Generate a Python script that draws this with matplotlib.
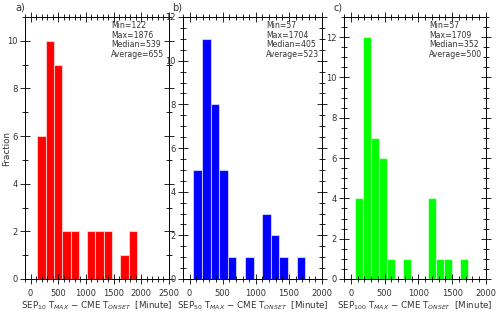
import matplotlib
matplotlib.use("Agg")
from matplotlib import pyplot as plt
from matplotlib.ticker import MultipleLocator

# histogram counts per bin (bins start at the minimum)
counts_a = [6, 10, 9, 2, 2, 0, 2, 2, 2, 0, 1, 2]
counts_b = [5, 11, 8, 5, 1, 0, 1, 0, 3, 2, 1, 0, 1]
counts_c = [4, 12, 7, 6, 1, 0, 1, 0, 0, 4, 1, 1, 0, 1]

start_a, width_a = 122, 150
start_b, width_b = 57, 130
start_c, width_c = 57, 120

stats_a = ["Min=122", "Max=1876", "Median=539", "Average=655"]
stats_b = ["Min=57", "Max=1704", "Median=405", "Average=523"]
stats_c = ["Min=57", "Max=1709", "Median=352", "Average=500"]

subs = ["10", "50", "100"]
letters = ["a)", "b)", "c)"]

plt.rcParams["font.family"] = "DejaVu Sans"
fig = plt.figure(figsize=(4.96, 3.27), dpi=100)

bottom = (327 - 279) / 327
height = (279 - 17) / 327
boxes = [(25, 144), (183, 139), (344, 142)]
xmaxs = [2500, 2000, 2000]
ymaxs = [11, 12, 13]
yminor = [1, 0.5, 0.5]
colors = ["#ff0000", "#0000ff", "#00ff00"]
allcounts = [counts_a, counts_b, counts_c]
starts = [start_a, start_b, start_c]
widths = [width_a, width_b, width_c]
allstats = [stats_a, stats_b, stats_c]

txtcol = "#333333"

for i in range(3):
    left, w = boxes[i]
    ax = fig.add_axes([left / 496, bottom, w / 496, height])
    lefts = [starts[i] + k * widths[i] for k in range(len(allcounts[i]))]
    ax.bar(lefts, allcounts[i], width=widths[i], align="edge",
           color=colors[i], edgecolor=(1, 1, 1, 0.55), linewidth=0.8)
    ax.set_xlim(-100, xmaxs[i])
    ax.set_ylim(0, ymaxs[i])
    ax.xaxis.set_major_locator(MultipleLocator(500))
    ax.xaxis.set_minor_locator(MultipleLocator(100))
    ax.yaxis.set_major_locator(MultipleLocator(2))
    ax.yaxis.set_minor_locator(MultipleLocator(yminor[i]))
    ax.tick_params(which="both", direction="inout", top=True, right=True,
                   labelsize=6, labelcolor=txtcol, width=0.6)
    ax.tick_params(axis="x", pad=4)
    ax.tick_params(axis="y", pad=1.5)
    ax.tick_params(which="major", length=7)
    ax.tick_params(which="minor", length=4)
    for s in ax.spines.values():
        s.set_linewidth(0.7)
    ax.set_xlabel("SEP$_{%s}$ T$_{MAX}$ $-$ CME T$_{ONSET}$  [Minute]" % subs[i],
                  fontsize=6.3, color=txtcol, labelpad=0.5)
    ax.text(0.6, 0.985, "\n".join(allstats[i]), transform=ax.transAxes,
            va="top", ha="left", fontsize=5.6, color=txtcol, linespacing=1.1)
    if i == 0:
        ax.set_ylabel("Fraction", fontsize=6.3, color=txtcol, va="center")
        ax.yaxis.set_label_coords(-0.13, 0.5)

fig.text(15 / 496, 1 - 8 / 327, "a)", fontsize=7, color=txtcol, va="center")
fig.text(172 / 496, 1 - 8 / 327, "b)", fontsize=7, color=txtcol, va="center")
fig.text(334 / 496, 1 - 8 / 327, "c)", fontsize=7, color=txtcol, va="center")

fig.savefig("out.png", dpi=100)
